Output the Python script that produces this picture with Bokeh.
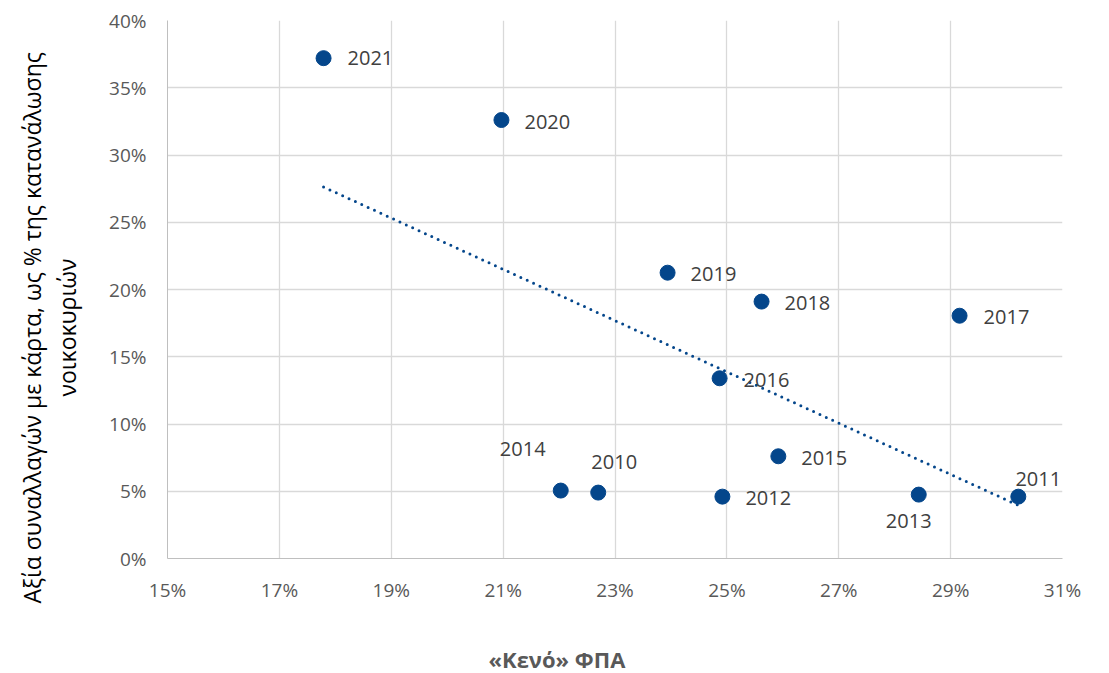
import numpy as np
from bokeh.plotting import figure
from bokeh.models import ColumnDataSource, FixedTicker, PrintfTickFormatter, Title, Range1d
from bokeh.embed import file_html
from bokeh.resources import INLINE
from bokeh.core.properties import value

# ---- data ----
years = ["2010", "2011", "2012", "2013", "2014", "2015",
         "2016", "2017", "2018", "2019", "2020", "2021"]
vat_gap = [22.70, 30.21, 24.92, 28.43, 22.03, 25.92,
           24.87, 29.16, 25.62, 23.94, 20.97, 17.79]      # %
card_share = [4.9, 4.6, 4.6, 4.75, 5.05, 7.6,
              13.4, 18.05, 19.1, 21.25, 32.6, 37.2]       # %
x_ticks = [15, 17, 19, 21, 23, 25, 27, 29, 31]
y_ticks = [0, 5, 10, 15, 20, 25, 30, 35, 40]
x_title = "«Κενό» ΦΠΑ"
y_title_1 = "Αξία συναλλαγών με κάρτα, ως % της κατανάλωσης"
y_title_2 = "νοικοκυριών"

# label placement (screen px offsets, alignment) per year
placement = {
    "2010": (16, -31, "center"), "2011": (20, -18, "center"),
    "2012": (23, 1, "left"),     "2013": (-10, 26, "center"),
    "2014": (-38, -42, "center"), "2015": (23, 2, "left"),
    "2016": (24, 2, "left"),     "2017": (24, 1, "left"),
    "2018": (23, 1, "left"),     "2019": (23, 1, "left"),
    "2020": (23, 2, "left"),     "2021": (24, 0, "left"),
}

FONT = "Open Sans"
BLUE = "#04468B"

src = ColumnDataSource(dict(
    x=vat_gap, y=card_share, t=years,
    dx=[placement[y][0] for y in years],
    dy=[placement[y][1] for y in years],
    al=[placement[y][2] for y in years],
))

p = figure(width=1100, height=673, output_backend="svg", toolbar_location=None,
           x_range=Range1d(15, 31), y_range=Range1d(0, 40),
           min_border_left=167, min_border_right=38,
           min_border_top=20, min_border_bottom=115)
p.outline_line_color = None
p.background_fill_color = "white"

# trend line (least squares fit of the data)
coef = np.polyfit(vat_gap, card_share, 1)
tx = [min(vat_gap), max(vat_gap)]
ty = [float(np.polyval(coef, v)) for v in tx]
p.line(tx, ty, line_color=BLUE, line_width=3, line_dash="0 7", line_cap="round")

p.scatter("x", "y", source=src, size=15, fill_color=BLUE, line_color=BLUE)
p.text("x", "y", text="t", source=src, x_offset="dx", y_offset="dy",
       text_align="al", text_baseline="middle",
       text_font=value(FONT), text_font_size="20px", text_color="#404040")

for ax in (p.xaxis, p.yaxis):
    ax.axis_line_color = "#BFBFBF"
    ax.axis_line_width = 1
    ax.major_tick_line_color = None
    ax.minor_tick_line_color = None
    ax.major_label_text_font = FONT
    ax.major_label_text_font_size = "19px"
    ax.major_label_text_color = "#595959"
    # invisible spacer label, pushes the titles outward
    ax.axis_label = "\u00a0"

p.xaxis.axis_label_text_font_size = "8px"
p.yaxis.axis_label_text_font_size = "10px"
p.xaxis.ticker = FixedTicker(ticks=x_ticks)
p.yaxis.ticker = FixedTicker(ticks=y_ticks)
p.xaxis.formatter = PrintfTickFormatter(format="%d%%")
p.yaxis.formatter = PrintfTickFormatter(format="%d%%")
p.xaxis.major_label_standoff = 12
p.yaxis.major_label_standoff = 15
p.xaxis.axis_label_standoff = 24
p.yaxis.axis_label_standoff = 9

p.xgrid.ticker = FixedTicker(ticks=x_ticks)
p.ygrid.ticker = FixedTicker(ticks=y_ticks)
p.grid.grid_line_color = "#D9D9D9"
p.grid.grid_line_width = 1.3

# axis titles
p.add_layout(Title(text=x_title, align="left", offset=321, standoff=0,
                   text_font=FONT, text_font_size="22px", text_font_style="bold",
                   text_color="#595959"), "below")
p.add_layout(Title(text=y_title_2, align="left", offset=162, standoff=2,
                   text_font=FONT, text_font_size="23px", text_font_style="normal",
                   text_color="#000000"), "left")
p.add_layout(Title(text=y_title_1, align="left", offset=-45, standoff=0,
                   text_font=FONT, text_font_size="23px", text_font_style="normal",
                   text_color="#000000"), "left")

open("out.html", "w").write(file_html(p, INLINE))
